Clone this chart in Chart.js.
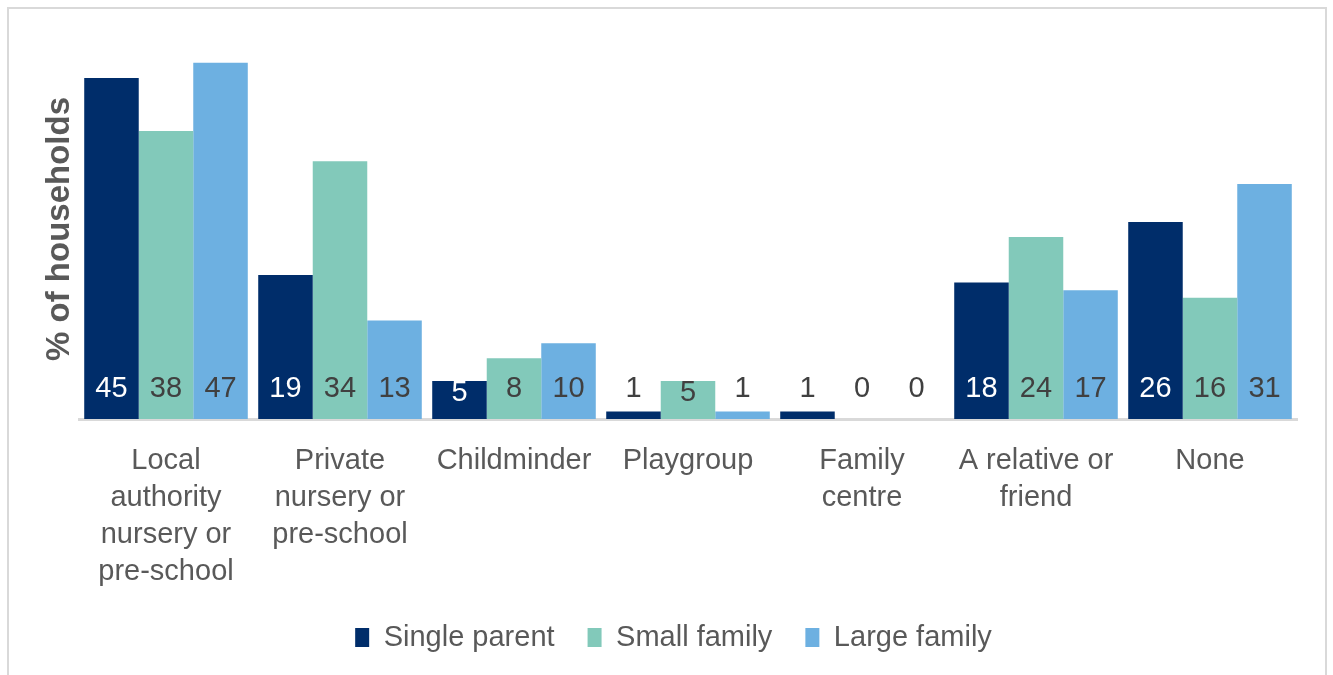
<!DOCTYPE html>
<html>
<head>
<meta charset="utf-8">
<script src="https://cdn.jsdelivr.net/npm/chart.js@4/dist/chart.umd.min.js"></script>
<style>
  html, body { margin: 0; padding: 0; background: #ffffff; }
  body { width: 1333px; height: 675px; position: relative; overflow: hidden; }
  #frame { position: absolute; left: 7px; top: 7px; width: 1316px; height: 720px;
           border: 2px solid #d9d9d9; box-sizing: content-box; }
  #wrap { position: absolute; left: 0; top: 0; width: 1333px; height: 675px; }
</style>
</head>
<body>
<div id="frame"></div>
<div id="wrap"><canvas id="c" width="1333" height="675"></canvas></div>
<script>
const categories = [
  ["Local", "authority", "nursery or", "pre-school"],
  ["Private", "nursery or", "pre-school"],
  "Childminder",
  "Playgroup",
  ["Family", "centre"],
  ["A relative or", "friend"],
  "None"
];
const seriesNames = ["Single parent", "Small family", "Large family"];
const singleParent = [45, 19, 5, 1, 1, 18, 26];
const smallFamily  = [38, 34, 8, 5, 0, 24, 16];
const largeFamily  = [47, 13, 10, 1, 0, 17, 31];
const yAxisTitle = "% of households";

const colors = ["#002d6a", "#82c9ba", "#6db0e1"];
const FONT = "'Liberation Sans', Arial, sans-serif";

const labelPlugin = {
  id: 'baseLabels',
  afterDatasetsDraw(chart) {
    const ctx = chart.ctx;
    ctx.save();
    ctx.font = "29px " + FONT;
    ctx.textAlign = 'center';
    ctx.textBaseline = 'middle';
    chart.data.datasets.forEach((ds, di) => {
      const meta = chart.getDatasetMeta(di);
      meta.data.forEach((el, i) => {
        const v = ds.data[i];
        const base = el.base;
        const top = el.y;
        let y = base - 30;
        const inside = v >= 3;
        if (inside && (base - top) < 62) y = Math.max(y, top + 12);
        ctx.fillStyle = (di === 0 && inside) ? '#ffffff' : '#404040';
        ctx.fillText(String(v), el.x, y);
      });
    });
    ctx.restore();
  }
};

const titlePlugin = {
  id: 'yTitle',
  afterDraw(chart) {
    const ctx = chart.ctx;
    ctx.save();
    ctx.translate(60, 229);
    ctx.rotate(-Math.PI / 2);
    ctx.font = "bold 33px " + FONT;
    ctx.fillStyle = '#595959';
    ctx.textAlign = 'center';
    ctx.textBaseline = 'middle';
    ctx.fillText(yAxisTitle, 0, 0);
    ctx.restore();
  }
};

new Chart(document.getElementById('c'), {
  type: 'bar',
  data: {
    labels: categories,
    datasets: [
      { label: seriesNames[0], data: singleParent, backgroundColor: colors[0] },
      { label: seriesNames[1], data: smallFamily, backgroundColor: colors[1] },
      { label: seriesNames[2], data: largeFamily, backgroundColor: colors[2] }
    ]
  },
  options: {
    responsive: false,
    animation: false,
    devicePixelRatio: 1,
    layout: { padding: { left: 14, right: 0, top: 40, bottom: 13 } },
    datasets: { bar: { categoryPercentage: 0.94, barPercentage: 1.0 } },
    plugins: {
      legend: {
        position: 'bottom',
        labels: {
          font: { family: FONT, size: 29 },
          color: '#595959',
          boxWidth: 14,
          boxHeight: 19,
          padding: 33
        }
      },
      tooltip: { enabled: false },
      title: { display: false }
    },
    scales: {
      x: {
        grid: { display: false, drawTicks: false, tickLength: 0 },
        border: { display: true, color: '#d9d9d9', width: 3 },
        ticks: {
          font: { family: FONT, size: 29, lineHeight: 37/29 },
          color: '#595959',
          padding: 23,
          maxRotation: 0,
          autoSkip: false
        },
        afterFit(scale) { scale.height = 171; }
      },
      y: {
        display: true,
        min: 0,
        max: 50,
        grid: { display: false, drawTicks: false },
        border: { display: false },
        ticks: { display: false },
        afterFit(scale) { scale.width = 65; }
      },
      y2: {
        position: 'right',
        display: true,
        grid: { display: false, drawTicks: false },
        border: { display: false },
        ticks: { display: false },
        afterFit(scale) { scale.width = 36; }
      }
    }
  },
  plugins: [labelPlugin, titlePlugin]
});
</script>
</body>
</html>
